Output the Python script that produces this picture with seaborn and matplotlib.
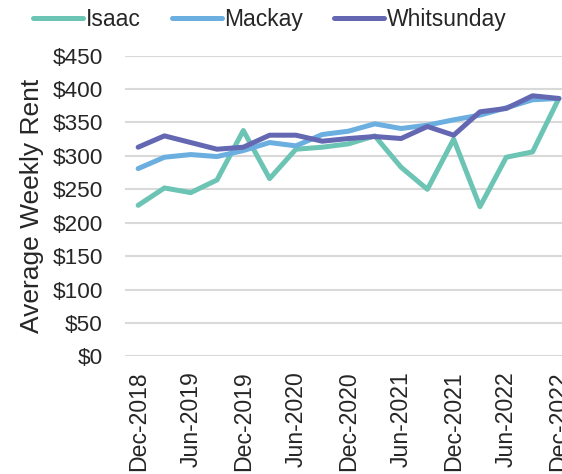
import matplotlib
matplotlib.use("Agg")
import matplotlib.pyplot as plt
import seaborn as sns
import pandas as pd
from matplotlib.lines import Line2D

quarters = [
    "Dec-2018", "Mar-2019", "Jun-2019", "Sep-2019", "Dec-2019",
    "Mar-2020", "Jun-2020", "Sep-2020", "Dec-2020", "Mar-2021",
    "Jun-2021", "Sep-2021", "Dec-2021", "Mar-2022", "Jun-2022",
    "Sep-2022", "Dec-2022",
]
isaac = [226, 252, 245, 264, 338, 266, 310, 313, 318, 330,
         283, 250, 325, 224, 298, 306, 386]
mackay = [281, 298, 302, 299, 308, 320, 315, 332, 337, 348,
          341, 346, 354, 361, 372, 384, 386]
whitsunday = [313, 330, 320, 310, 313, 331, 331, 322, 326, 329,
              326, 344, 331, 366, 371, 390, 386]
regions = ["Isaac", "Mackay", "Whitsunday"]
colors = ["#6CC4B4", "#6BAEE0", "#6468B2"]
yticks = list(range(0, 451, 50))

df = pd.DataFrame({
    "Quarter": quarters * 3,
    "Rent": isaac + mackay + whitsunday,
    "Region": sum([[r] * len(quarters) for r in regions], []),
})

sns.set_theme(style="white")
plt.rcParams["font.family"] = ["Liberation Sans", "DejaVu Sans"]
plt.rcParams["text.color"] = "#262626"

fig = plt.figure(figsize=(5.62, 4.74), dpi=100)
ax = fig.add_axes([0.2224, 0.2483, 0.7954, 0.6342])

sns.lineplot(data=df, x="Quarter", y="Rent", hue="Region",
             palette=dict(zip(regions, colors)), sort=False,
             linewidth=3.6, ax=ax, legend=False)

ax.set_xlim(-0.5, len(quarters) - 0.5)
ax.set_ylim(0, 450)
ax.set_yticks(yticks)
ax.set_yticklabels([f"${v}" for v in yticks], fontsize=16.2, color="#262626")
ax.set_xticks(range(0, len(quarters), 2))
ax.set_xticklabels(quarters[::2], rotation=90, fontsize=16.6, color="#262626")
ax.tick_params(axis="x", length=0, pad=10.5)
ax.tick_params(axis="y", length=0, pad=16)
ax.set_xlabel("")
ax.set_ylabel("Average Weekly Rent", fontsize=19, color="#262626", labelpad=6)
ax.yaxis.grid(True, color="#D9D9D9", linewidth=1.5)
ax.set_axisbelow(True)
for s in ax.spines.values():
    s.set_visible(False)

handles = [Line2D([], [], color=c, linewidth=3.6, solid_capstyle="round")
           for c in colors]
fig.legend(handles, regions, loc="center", bbox_to_anchor=(0.48, 0.958),
           ncol=3, frameon=False, fontsize=16.5, handlelength=2.2,
           handletextpad=0.1, columnspacing=1.35)

fig.savefig("out.png", dpi=100)
